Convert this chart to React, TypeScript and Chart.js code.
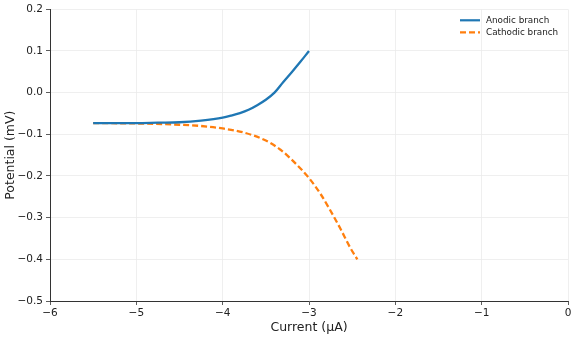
import React, { useEffect, useRef } from "react";
import { Chart, registerables } from "chart.js";

Chart.register(...registerables);

const anodicCurrent = [-5.5, -5.25, -5.0, -4.75, -4.5, -4.25, -4.0, -3.9, -3.8, -3.7, -3.6, -3.5, -3.4, -3.3, -3.2, -3.1, -3.0];
const anodicPotential = [-0.073, -0.073, -0.073, -0.072, -0.071, -0.067, -0.06, -0.055, -0.049, -0.041, -0.03, -0.017, 0.0, 0.025, 0.049, 0.074, 0.1];

const cathodicCurrent = [-5.5, -5.0, -4.5, -4.25, -4.0, -3.75, -3.5, -3.33, -3.18, -3.0, -2.87, -2.76, -2.64, -2.52, -2.44];
const cathodicPotential = [-0.073, -0.074, -0.077, -0.08, -0.086, -0.096, -0.115, -0.137, -0.165, -0.205, -0.242, -0.28, -0.325, -0.373, -0.4];

const seriesNames = ["Anodic branch", "Cathodic branch"];
const seriesColors = ["#1f77b4", "#ff7f0e"];

const FONT = "'DejaVu Sans', sans-serif";
const fmt = (v: number, d: number) => v.toFixed(d).replace("-", "\u2212").replace(/^\u22120(\.0+)?$/, (m) => m.slice(1));

const legendPlugin = {
  id: "innerLegend",
  afterDraw(chart: any) {
    const ctx = chart.ctx;
    const ca = chart.chartArea;
    ctx.save();
    ctx.font = `8.8px ${FONT}`;
    ctx.textBaseline = "middle";
    ctx.textAlign = "left";
    const x0 = ca.right - 108;
    const rows = [ca.top + 11, ca.top + 23];
    seriesNames.forEach((name, i) => {
      ctx.strokeStyle = seriesColors[i];
      ctx.lineWidth = 2.2;
      ctx.setLineDash(i === 1 ? [6, 3] : []);
      ctx.beginPath();
      ctx.moveTo(x0, rows[i]);
      ctx.lineTo(x0 + 20, rows[i]);
      ctx.stroke();
      ctx.setLineDash([]);
      ctx.fillStyle = "#222";
      ctx.fillText(name, x0 + 26, rows[i]);
    });
    ctx.restore();
  },
};

export default function App() {
  const ref = useRef<HTMLCanvasElement>(null);
  useEffect(() => {
    document.body.style.margin = "0";
    const chart = new Chart(ref.current!, {
      type: "line",
      data: {
        datasets: [
          {
            label: seriesNames[0],
            data: anodicCurrent.map((x, i) => ({ x, y: anodicPotential[i] })),
            borderColor: seriesColors[0],
            backgroundColor: seriesColors[0],
            borderWidth: 2.3,
            pointRadius: 0,
            cubicInterpolationMode: "monotone",
          },
          {
            label: seriesNames[1],
            data: cathodicCurrent.map((x, i) => ({ x, y: cathodicPotential[i] })),
            borderColor: seriesColors[1],
            backgroundColor: seriesColors[1],
            borderWidth: 2.3,
            borderDash: [6, 3],
            pointRadius: 0,
            cubicInterpolationMode: "monotone",
          },
        ],
      },
      options: {
        animation: false,
        responsive: false,
        layout: { padding: { top: 7, right: 8, left: 0, bottom: 0 } },
        plugins: { legend: { display: false }, tooltip: { enabled: false } },
        scales: {
          x: {
            type: "linear",
            min: -6,
            max: 0,
            ticks: {
              stepSize: 1,
              color: "#222",
              font: { family: FONT, size: 10.5 },
              padding: 2,
              callback: (v: any) => fmt(Number(v), 0),
            },
            grid: { color: "#ebebeb", lineWidth: 0.8, tickColor: "#333", tickLength: 4 },
            border: { display: true, color: "#333", width: 1 },
            title: { display: true, text: "Current (\u03bcA)", color: "#222", font: { family: FONT, size: 12.5 }, padding: { top: 0, bottom: 4 } },
            afterFit: (s: any) => { s.height = 38; },
          },
          y: {
            type: "linear",
            min: -0.5,
            max: 0.2,
            ticks: {
              stepSize: 0.1,
              color: "#222",
              font: { family: FONT, size: 10.5 },
              padding: 3,
              callback: (v: any) => fmt(Number(v), 1),
            },
            grid: { color: "#ebebeb", lineWidth: 0.8, tickColor: "#333", tickLength: 4 },
            border: { display: true, color: "#333", width: 1 },
            title: { display: true, text: "Potential (mV)", color: "#222", font: { family: FONT, size: 12.5 }, padding: { top: 3, bottom: 2 } },
            afterFit: (s: any) => { s.width = 50; },
          },
        },
      },
      plugins: [legendPlugin],
    } as any);
    return () => chart.destroy();
  }, []);
  return (
    <div style={{ width: 576, height: 339 }}>
      <canvas ref={ref} width={576} height={339} style={{ display: "block" }} />
    </div>
  );
}
